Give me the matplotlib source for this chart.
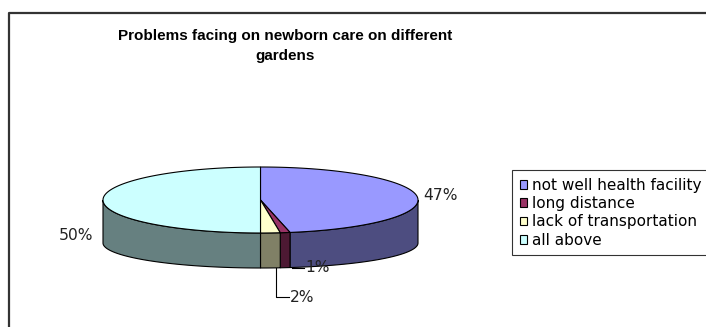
import numpy as np
import matplotlib
matplotlib.use('Agg')
import matplotlib.pyplot as plt
from matplotlib.patches import Patch

title = 'Problems facing on newborn care on different\ngardens'
categories = ['not well health facility', 'long distance', 'lack of transportation', 'all above']
values = [47, 1, 2, 50]
top_colors = ['#9999FF', '#993366', '#FFFFCC', '#CCFFFF']
side_colors = ['#4D4D80', '#4D1933', '#808066', '#668080']

fig = plt.figure(figsize=(7.06, 3.27), dpi=100)
ax = fig.add_axes([0, 0, 1, 1])
ax.set_xlim(0, 706)
ax.set_ylim(327, 0)
ax.axis('off')

# frame of the chart area (only left and top visible)
ax.plot([9, 9, 706], [327, 13, 13], color='#333333', lw=1.6, solid_capstyle='butt')

# pie geometry in pixels: top ellipse and (flatter) bottom ellipse
cx, cy, a, b = 260.5, 200, 157.5, 33
cy2, b2 = 243, 25

fracs = np.array(values) / sum(values)
cum = np.concatenate([[0], np.cumsum(fracs)])
starts = 90 - 360 * cum[1:]
ends = 90 - 360 * cum[:-1]

# sides (front half only)
for lo, hi, col in zip(starts, ends, side_colors):
    for shift in (-360, 0, 360):
        s = max(lo + shift, 180)
        e = min(hi + shift, 360)
        if e <= s:
            continue
        t = np.radians(np.linspace(s, e, 100))
        xs = np.concatenate([cx + a * np.cos(t), (cx + a * np.cos(t))[::-1]])
        ys = np.concatenate([cy - b * np.sin(t), (cy2 - b2 * np.sin(t))[::-1]])
        ax.fill(xs, ys, facecolor=col, edgecolor='black', lw=0.8)

# top faces
for lo, hi, col in zip(starts, ends, top_colors):
    t = np.radians(np.linspace(lo, hi, 200))
    xs = np.concatenate([[cx], cx + a * np.cos(t), [cx]])
    ys = np.concatenate([[cy], cy - b * np.sin(t), [cy]])
    ax.fill(xs, ys, facecolor=col, edgecolor='black', lw=0.8)

# percent labels
lab_font = dict(family='DejaVu Sans', fontsize=11.2, color='#222222')
pct = ['%d%%' % v for v in values]
ax.text(423, 195, pct[0], ha='left', va='center', **lab_font)
ax.text(305, 268, pct[1], ha='left', va='center', **lab_font)
ax.plot([292, 304], [268, 268], color='black', lw=0.8)
ax.text(290, 297, pct[2], ha='left', va='center', **lab_font)
ax.plot([276, 276, 289], [268, 297, 297], color='black', lw=0.8)
ax.text(93, 236, pct[3], ha='right', va='center', **lab_font)

# title
ax.text(285, 46, title, ha='center', va='center', family='Liberation Sans',
        fontweight='bold', fontsize=11, linespacing=1.5)

# legend
handles = [Patch(facecolor=c, edgecolor='black', lw=0.8) for c in top_colors]
leg = fig.legend(handles, categories, loc='upper left',
                 bbox_to_anchor=(512 / 706, 1 - 170 / 327),
                 prop={'family': 'DejaVu Sans', 'size': 11.0},
                 frameon=True, fancybox=False, edgecolor='black',
                 borderaxespad=0, borderpad=0.5, handlelength=0.5,
                 handleheight=0.5, handletextpad=0.3, labelspacing=0.22)
leg.get_frame().set_linewidth(0.8)

fig.savefig('out.png', dpi=100)
